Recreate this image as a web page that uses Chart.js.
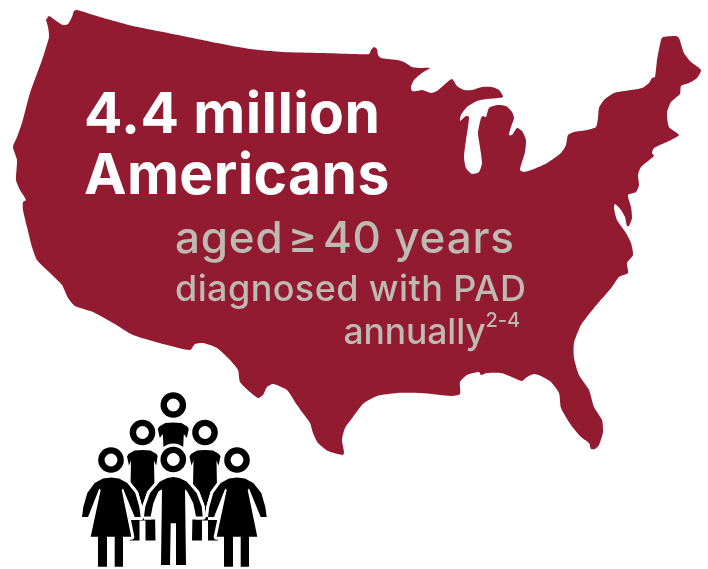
<!DOCTYPE html>
<html lang="en">
<head>
    <meta charset="UTF-8">
    <title>4.4 million Americans diagnosed with PAD</title>
    <script src="https://cdn.jsdelivr.net/npm/chart.js"></script>
    <style>
        body { margin: 0; background: #fff; font-family: 'Inter', sans-serif; }
        #wrap { position: relative; width: 708px; height: 569px; overflow: hidden; }
        canvas { position: absolute; left: 0; top: 0; }
        .label { position: absolute; white-space: nowrap; line-height: 1; }
        .big { color: #fff; font-weight: 700; font-size: 57px; left: 84px; letter-spacing: 0.4px; }
        .sub { color: #bfbab1; font-weight: 500; }
        sup { font-size: 20px; line-height: 0; position: relative; top: -4px; vertical-align: super; }
    </style>
</head>
<body>
<div id="wrap">
    <canvas id="map" width="708" height="569"></canvas>
    <div class="label big" style="top:84px" id="line1"></div>
    <div class="label big" style="top:145px" id="line2"></div>
    <div class="label sub" style="left:175px;top:215px;font-size:44px;letter-spacing:0.8px" id="line3"></div>
    <div class="label sub" style="left:175px;top:270px;font-size:36px;letter-spacing:0.4px" id="line4"></div>
    <div class="label sub" style="right:188px;top:314px;font-size:35.5px;letter-spacing:-0.1px" id="line5"></div>
</div>
<script>
    // texts
    const headline = ["4.4 million", "Americans"];
    const ageText = "aged\u200a\u2265\u200a40 years";
    const diagnosedText = "diagnosed with PAD";
    const annualText = "annually";
    const refText = "2-4";

    // map outline, [x, y] in image pixels
    const mapOutline = [
        [46,20],[49,16],[55,20],[63,25],[68,24],[72,17],[74,11],[77,10],[100,17],[133,26],[173,34],[217,43],
        [250,49],[283,52],[320,53],[354,54],[369,54],[371,50],[374,47],[377,49],[378,55],[381,58],[387,59],
        [397,60],[404,62],[412,67],[421,68],[430,68],[422,73],[414,80],[411,87],[412,91],[417,91],[422,90],
        [431,93],[437,91],[444,85],[452,79],[457,86],[464,90],[472,90],[482,87],[492,87],[499,90],[503,97],
        [487,99],[477,101],[467,107],[461,115],[460,121],[466,116],[469,117],[468,127],[466,140],[464,157],
        [466,168],[472,174],[479,172],[482,163],[480,147],[478,133],[481,118],[483,116],[486,117],[489,108],
        [497,105],[506,106],[512,112],[514,118],[511,127],[509,135],[512,135],[517,128],[522,131],[526,140],
        [525,152],[522,162],[520,170],[524,172],[534,169],[547,163],[561,153],[566,145],[568,135],[574,132],
        [587,130],[596,127],[598,118],[599,108],[604,100],[614,93],[631,90],[642,88],[649,83],[652,78],[655,77],
        [657,60],[661,40],[663,37],[676,36],[679,38],[684,53],[691,62],[701,70],[697,78],[689,83],[681,86],
        [680,94],[671,102],[667,113],[669,127],[679,135],[671,140],[654,148],[652,153],[654,156],[641,167],
        [638,175],[639,185],[636,192],[628,195],[631,207],[632,218],[629,226],[627,226],[625,217],[621,210],
        [615,204],[614,208],[617,220],[626,233],[631,243],[633,255],[627,263],[628,273],[619,277],[612,287],
        [594,308],[581,325],[574,343],[574,358],[579,375],[589,390],[594,407],[602,420],[603,432],[599,445],
        [595,449],[591,449],[589,443],[581,437],[571,425],[561,408],[559,393],[551,382],[541,376],[534,374],
        [527,377],[522,381],[514,378],[501,373],[487,373],[481,375],[479,372],[467,375],[460,382],[460,394],
        [451,396],[421,393],[397,393],[377,396],[364,403],[358,410],[353,417],[345,428],[342,440],[344,452],
        [343,455],[328,451],[318,443],[313,433],[310,423],[302,412],[295,402],[287,390],[273,384],[267,387],
        [263,395],[258,398],[250,392],[240,382],[238,370],[230,360],[217,348],[203,343],[195,344],[190,350],
        [167,345],[133,335],[113,323],[93,312],[75,306],[68,298],[62,285],[50,273],[37,260],[32,247],[27,227],
        [23,210],[23,202],[26,200],[20,190],[16,180],[17,160],[13,147],[17,137],[22,123],[30,93],[42,60],
        [49,37],[48,27],[46,20]
    ];

    // people: heads and body shapes, bodies given relative to the head centre
    const backHeads = [[142.5,432.5],[205,432.5],[173.3,405]];
    const frontHeads = [[111,460],[173.3,459.5],[237,460]];

    const backBody = [
        [0,17.5],[-8,18],[-14,21.5],[-15.5,24],[-13.5,33],[-11.5,28],[-13,108],[-3,108],[-3,88],[3,88],[3,108],
        [13,108],[11.5,28],[13.5,33],[15.5,24],[14,21.5],[8,18],[0,17.5]
    ];
    const topBody = [
        [0,17.5],[-8,18],[-14,21.5],[-15.5,24],[-13.5,33],[-10.5,29],[-9.5,50],[9.5,50],[10.5,29],[13.5,33],
        [15.5,24],[14,21.5],[8,18],[0,17.5]
    ];
    const womanBody = [
        [-29,57],[-27.7,47],[-23.7,33],[-16.3,23],[-8,18.5],[0,17.5],[8,18.5],[16.3,23],[24.3,33],[28.3,47],
        [29.7,57],[23.7,57],[12,28.5],[10.7,30],[20.3,76.7],[12,76.7],[12,106.7],[3.7,106.7],[3.7,76.7],
        [-4,76.7],[-4,106.7],[-13,106.7],[-13,76.7],[-20.3,76.7],[-10.3,30],[-11.7,28.5],[-23,57],[-29,57]
    ];
    const manBody = [
        [-29.3,57],[-28,47],[-23.3,33.5],[-13.3,22],[-6,18.5],[0,17.5],[6,18.5],[13.3,22],[23.3,33.5],[28.4,47],
        [29.4,57],[22.7,57],[20,43.8],[14,32],[11.7,29.8],[12.7,105.5],[3.3,105.5],[2.7,63.8],[-2.6,63.8],
        [-3.3,105.5],[-12.3,105.5],[-11.3,29.8],[-15,32],[-20,43.8],[-22.6,57],[-29.3,57]
    ];

    const mapRed = '#921b32';
    const shapeSets = [];

    function addShape(points, fillColor, haloWidth, filled) {
        shapeSets.push({
            data: points.map(p => ({ x: p[0], y: p[1] })),
            showLine: true,
            fill: (!haloWidth || filled) ? 'shape' : false,
            backgroundColor: fillColor,
            borderColor: haloWidth ? '#fff' : fillColor,
            borderWidth: haloWidth || 0,
            borderJoinStyle: 'round',
            pointRadius: 0,
            tension: 0,
            clip: false
        });
    }

    function addHeads(heads, radius, ringWidth, color) {
        shapeSets.push({
            data: heads.map(p => ({ x: p[0], y: p[1] })),
            showLine: false,
            pointRadius: radius,
            pointBorderWidth: ringWidth,
            pointBackgroundColor: '#fff',
            pointBorderColor: color,
            clip: false
        });
    }

    function moved(body, head) {
        return body.map(p => [p[0] + head[0], p[1] + head[1]]);
    }

    // the arch from hand to hand, closed: everything under it stays white
    function archOf(body) {
        const arch = body.slice(0, 11);
        arch.push(body[0]);
        return arch;
    }

    // painted in this order, back to front
    addShape(mapOutline, mapRed);
    shapeSets[0].tension = 0.2;
    addShape(moved(topBody, backHeads[2]), '#000');
    addShape(moved(backBody, backHeads[0]), '#000');
    addShape(moved(backBody, backHeads[1]), '#000');
    addHeads(backHeads, 9.6, 6.4, '#000');

    const womanAt = [frontHeads[0], frontHeads[2]];
    womanAt.forEach(h => addShape(moved(archOf(womanBody), h), '#fff', 6, true));
    addShape(moved(archOf(manBody), frontHeads[1]), '#fff', 6, true);
    womanAt.forEach(h => addShape(moved(womanBody, h), '#fff', 6));
    addShape(moved(manBody, frontHeads[1]), '#fff', 6);
    addHeads(frontHeads, 16, 0, '#fff');
    womanAt.forEach(h => addShape(moved(womanBody, h), '#000'));
    addShape(moved(manBody, frontHeads[1]), '#000');
    addHeads(frontHeads, 9.6, 6.4, '#000');

    shapeSets.forEach((d, i) => { d.order = shapeSets.length - i; });

    new Chart(document.getElementById('map'), {
        type: 'scatter',
        data: { datasets: shapeSets },
        options: {
            responsive: false,
            animation: false,
            devicePixelRatio: 1,
            layout: { padding: 0, autoPadding: false },
            plugins: { legend: { display: false }, tooltip: { enabled: false }, title: { display: false } },
            scales: {
                x: { type: 'linear', min: 0, max: 708, display: false },
                y: { type: 'linear', min: 0, max: 569, reverse: true, display: false }
            }
        }
    });

    document.getElementById('line1').textContent = headline[0];
    document.getElementById('line2').textContent = headline[1];
    document.getElementById('line3').textContent = ageText;
    document.getElementById('line4').textContent = diagnosedText;
    document.getElementById('line5').innerHTML = annualText + '<sup>' + refText + '</sup>';
</script>
</body>
</html>
